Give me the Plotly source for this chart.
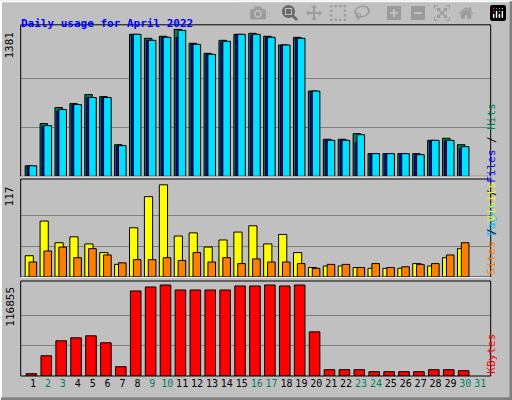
import plotly.graph_objects as go

days = list(range(1, 31))
hits = [100,496,647,684,769,750,298,1334,1297,1316,1381,1250,1156,1278,1334,1344,1316,1234,1306,801,349,349,402,214,214,214,214,339,358,298]
files = [90,470,615,675,740,741,285,1334,1278,1306,1306,1240,1146,1260,1334,1325,1306,1234,1297,801,339,339,315,214,214,214,204,333,333,260]
pages = [100,477,628,675,741,741,289,1334,1278,1306,1372,1240,1146,1269,1334,1334,1306,1234,1297,801,339,339,392,214,214,214,204,339,339,279]
visits = [27,71,43.5,51,42,31,16,62.5,102,117,52,56,38,47,57,65,42,54,31,12,14,14,12,11,11,11,17,14,24.5,36]
sites = [19,33,38,24.5,36,28,18,22,22,24.5,21,31,19,24.5,17,23,19,19,17,11,16,16,12,17,12,13,16,17,28,43.5]
kbytes = [2985,26000,45200,49000,51600,42650,11940,109200,114300,116855,110450,110450,110450,110450,115600,115600,116855,115600,116855,56700,8100,8100,8100,5540,5540,5540,5540,8100,8100,6820]
tick_days = list(range(1, 32))
weekend = {2,3,9,10,16,17,23,24,30,31}

hmax, vmax, kmax = max(hits), max(visits), max(kbytes)
fig = go.Figure()
def bar(y, color, off, w, ax):
    fig.add_trace(go.Bar(x=days, y=y, marker=dict(color=color, line=dict(color="black", width=1)),
                         offset=off, width=w, xaxis=ax[0], yaxis=ax[1], showlegend=False))
bar(hits, "#008060", -0.53, 0.5, ("x", "y"))
bar(files, "#0000ff", -0.40, 0.5, ("x", "y"))
bar(pages, "#00e0ff", -0.27, 0.51, ("x", "y"))
bar(visits, "#ffff00", -0.53, 0.55, ("x2", "y2"))
bar(sites, "#ff8000", -0.27, 0.51, ("x2", "y2"))
bar(kbytes, "#ff0000", -0.47, 0.71, ("x3", "y3"))

xr = [0.17, 31.7]
xd = [20.7/512, 490.7/512]
common_x = dict(range=xr, domain=xd, showgrid=False, zeroline=False, showline=False)
ticktext = [f'<span style="color:{"#008060" if d in weekend else "black"}">{d}</span>' for d in tick_days]
fig.update_layout(
    width=512, height=400, margin=dict(l=0, r=0, t=0, b=0),
    paper_bgcolor="#c0c0c0", plot_bgcolor="#c0c0c0", barmode="overlay",
    font=dict(family="DejaVu Sans Mono", size=10, color="black"),
    xaxis=dict(**common_x, anchor="y", showticklabels=False),
    xaxis2=dict(**common_x, anchor="y2", showticklabels=False),
    xaxis3=dict(**common_x, anchor="y3", tickvals=tick_days, ticktext=ticktext, ticks="", tickfont=dict(size=10)),
)
def yax(m, mult, dom):
    return dict(domain=dom, range=[0, m*mult], tickvals=[m/3, 2*m/3], showticklabels=False,
                gridcolor="#808080", gridwidth=1, zeroline=False, showline=False, ticks="")
fig.update_layout(yaxis=yax(hmax, 1.031, [0.559, 0.938]),
                  yaxis2=yax(vmax, 1.063, [0.3075, 0.5525]),
                  yaxis3=yax(kmax, 1.044, [0.06, 0.2975]))

ann = []
for ya, m in (("y", hmax), ("y2", vmax), ("y3", kmax)):
    ann.append(dict(x=xd[0]-0.005, xref="paper", xanchor="right", y=m, yref=ya, yanchor="top",
                    text=str(m), textangle=-90, showarrow=False, font=dict(size=11)))
ann.append(dict(x=0.975, xref="paper", y=(0.559+0.938)/2, yref="paper", textangle=-90, showarrow=False,
                text='<span style="color:#00c0ff">Pages</span> / <span style="color:#0000ff">Files</span> / <span style="color:#00805c">Hits</span>',
                font=dict(size=11)))
ann.append(dict(x=0.975, xref="paper", y=(0.3075+0.5525)/2, yref="paper", textangle=-90, showarrow=False,
                text='<span style="color:#ff8000">Sites</span> / <span style="color:#ffff00">Visits</span>',
                font=dict(size=11)))
ann.append(dict(x=0.975, xref="paper", y=0.06, yref="paper", yanchor="bottom", textangle=-90, showarrow=False,
                text='<span style="color:#ff0000">KBytes</span>', font=dict(size=11)))
ann.append(dict(x=19/512, xref="paper", xanchor="left", y=1-15/400, yref="paper", showarrow=False,
                text="<b>Daily usage for April 2022</b>", font=dict(size=11, color="#0000ff")))
fig.update_layout(annotations=ann)

shapes = []
for y0, y1 in ((0.559, 0.938), (0.3075, 0.5525), (0.06, 0.2975)):
    shapes.append(dict(type="rect", xref="paper", yref="paper", x0=xd[0], x1=xd[1], y0=y0, y1=y1,
                       line=dict(color="black", width=1)))
shapes.append(dict(type="line", xref="paper", yref="paper", x0=xd[0], x1=xd[1], y0=0.558, y1=0.558, line=dict(color="white", width=1)))
shapes.append(dict(type="line", xref="paper", yref="paper", x0=xd[0], x1=xd[1], y0=0.3065, y1=0.3065, line=dict(color="white", width=1)))
shapes.append(dict(type="rect", xref="paper", yref="paper", x0=0.002, x1=0.998, y0=0.003, y1=0.997, line=dict(color="white", width=2)))
shapes.append(dict(type="path", xref="paper", yref="paper", path="M 0.998,0.997 L 0.998,0.003 L 0.002,0.003", line=dict(color="#808080", width=3)))
fig.update_layout(shapes=shapes)
fig.write_html("out.html", post_script="document.body.style.margin='0';document.body.style.overflow='hidden';")
